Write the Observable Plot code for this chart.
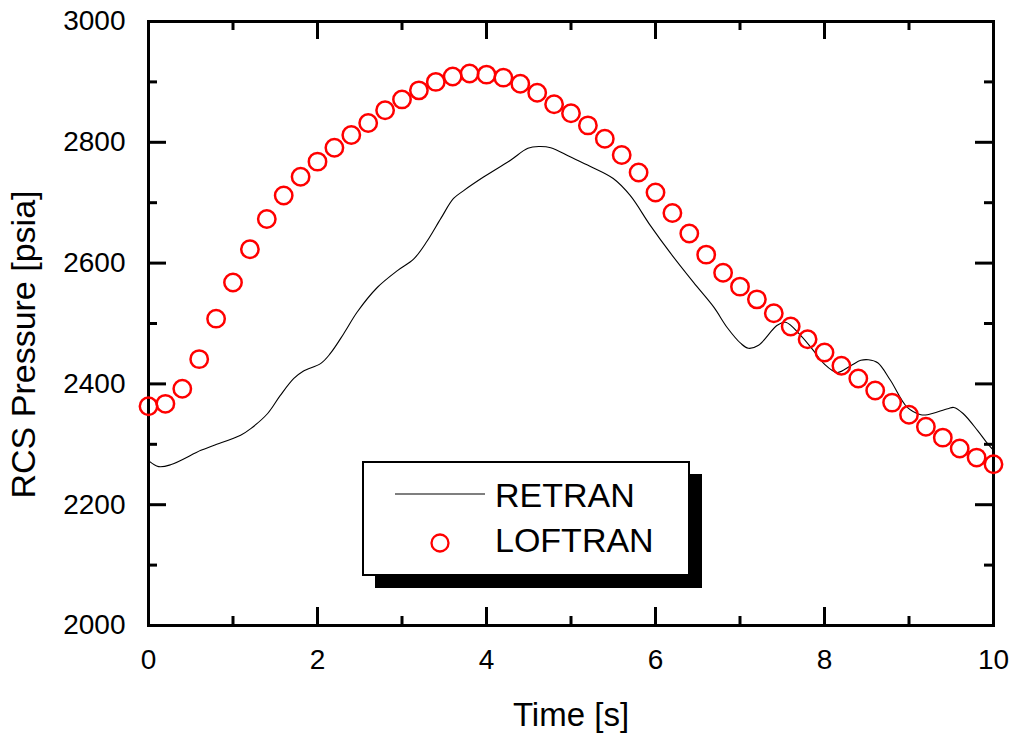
<!DOCTYPE html>
<html><head><meta charset="utf-8">
<script src="https://cdn.jsdelivr.net/npm/d3@7"></script>
<script src="https://cdn.jsdelivr.net/npm/@observablehq/plot@0.6"></script>
<style>
body{margin:0;background:#fff;}
#chart svg{display:block;}
</style>
</head><body><div id="chart"></div>
<script>
// ---- data ----
const seriesNames = ["RETRAN", "LOFTRAN"];
const xLabel = "Time [s]";
const yLabel = "RCS Pressure [psia]";

const loftranTime = [0,0.2,0.4,0.6,0.8,1,1.2,1.4,1.6,1.8,2,2.2,2.4,2.6,2.8,3,3.2,3.4,3.6,3.8,4,4.2,4.4,4.6,4.8,5,5.2,5.4,5.6,5.8,6,6.2,6.4,6.6,6.8,7,7.2,7.4,7.6,7.8,8,8.2,8.4,8.6,8.8,9,9.2,9.4,9.6,9.8,10];
const loftranPressure = [2363,2367,2392,2441,2508,2568,2623,2673,2712,2743,2768,2791,2812,2832,2853,2871,2886,2900,2909,2914,2912,2907,2897,2882,2863,2848,2828,2806,2779,2750,2717,2683,2649,2614,2584,2561,2540,2517,2495,2474,2452,2430,2409,2389,2369,2349,2329,2311,2293,2278,2267];

const retranTime = [0,0.12,0.26,0.62,0.77,1.09,1.21,1.41,1.56,1.72,1.83,2.04,2.15,2.31,2.47,2.71,2.95,3.14,3.30,3.46,3.61,3.73,3.96,4.28,4.49,4.62,4.76,4.99,5.23,5.50,5.70,5.94,6.18,6.45,6.69,6.85,7.01,7.10,7.22,7.44,7.54,7.72,7.87,7.99,8.15,8.31,8.43,8.52,8.63,8.78,8.98,9.14,9.22,9.46,9.53,9.64,9.81,9.93,10];
const retranPressure = [2273,2263,2266,2290,2298,2315,2326,2351,2381,2409,2421,2434,2450,2483,2519,2560,2588,2607,2637,2674,2707,2720,2742,2770,2790,2793,2791,2776,2760,2740,2712,2662,2616,2568,2527,2493,2467,2459,2464,2497,2502,2480,2455,2434,2419,2430,2439,2440,2435,2406,2361,2349,2349,2359,2361,2351,2323,2301,2290];

const xMajorTicks = [0,2,4,6,8,10];
const xMinorTicks = [1,3,5,7,9];
const yMajorTicks = [2000,2200,2400,2600,2800,3000];
const yMinorTicks = [2100,2300,2500,2700,2900];

// ---- build tables ----
const loftran = loftranTime.map((t,i)=>({t, p: loftranPressure[i]}));
const retran = retranTime.map((t,i)=>({t, p: retranPressure[i]}));

// ---- layout ----
const W = 1016, H = 739;
const mL = 148, mR = 23, mT = 21, mB = 114;
const PW = W - mL - mR, PH = H - mT - mB;
const MAJ = 18, MIN = 9;
const FONT = "'Liberation Sans', Arial, Helvetica, sans-serif";

const chart = Plot.plot({
  width: W, height: H,
  marginLeft: mL, marginRight: mR, marginTop: mT, marginBottom: mB,
  style: {fontFamily: FONT, fontSize: "28px", background: "#fff", color: "#000"},
  x: {domain: [0, 10]},
  y: {domain: [2000, 3000]},
  marks: [
    Plot.line(retran, {x: "t", y: "p", stroke: "#000", strokeWidth: 1.1, curve: "catmull-rom"}),
    // ticks (inward on all four sides)
    Plot.tickX(xMajorTicks, {x: d=>d, insetTop: PH - MAJ, strokeWidth: 3}),
    Plot.tickX(xMinorTicks, {x: d=>d, insetTop: PH - MIN, strokeWidth: 3}),
    Plot.tickX(xMajorTicks, {x: d=>d, insetBottom: PH - MAJ, strokeWidth: 3}),
    Plot.tickX(xMinorTicks, {x: d=>d, insetBottom: PH - MIN, strokeWidth: 3}),
    Plot.tickY(yMajorTicks, {y: d=>d, insetRight: PW - MAJ, strokeWidth: 3}),
    Plot.tickY(yMinorTicks, {y: d=>d, insetRight: PW - MIN, strokeWidth: 3}),
    Plot.tickY(yMajorTicks, {y: d=>d, insetLeft: PW - MAJ, strokeWidth: 3}),
    Plot.tickY(yMinorTicks, {y: d=>d, insetLeft: PW - MIN, strokeWidth: 3}),
    Plot.frame({stroke: "#000", strokeWidth: 3}),
    Plot.axisX(xMajorTicks, {tickSize: 0, tickPadding: 24, fontSize: 28, label: null, tickFormat: d => String(d)}),
    Plot.axisY(yMajorTicks, {tickSize: 0, tickPadding: 23, fontSize: 28, label: null, tickFormat: d => String(d)}),
    Plot.text([xLabel], {frameAnchor: "bottom", lineAnchor: "top", textAnchor: "middle", dy: 77, fontSize: 33, fill: "#000"}),
    Plot.text([yLabel], {frameAnchor: "left", rotate: -90, textAnchor: "middle", dx: -124, dy: 21, fontSize: 34, fill: "#000"}),
    Plot.dot(loftran, {x: "t", y: "p", r: 8.7, stroke: "#ff0000", strokeWidth: 2.5, fill: "none"})
  ]
});
document.getElementById("chart").appendChild(chart);

// ---- legend (inside the plot, with drop shadow) ----
const svg = d3.select(chart);
const lg = svg.append("g").attr("font-family", FONT).attr("text-anchor", "start");
lg.append("rect").attr("x", 375).attr("y", 474).attr("width", 327).attr("height", 114).attr("fill", "#000");
lg.append("rect").attr("x", 363).attr("y", 462).attr("width", 326).attr("height", 113)
  .attr("fill", "#fff").attr("stroke", "#000").attr("stroke-width", 2);
lg.append("line").attr("x1", 395).attr("x2", 485).attr("y1", 494).attr("y2", 494)
  .attr("stroke", "#000").attr("stroke-width", 1.1);
lg.append("circle").attr("cx", 440).attr("cy", 543).attr("r", 8.5)
  .attr("fill", "none").attr("stroke", "#ff0000").attr("stroke-width", 2.3);
lg.append("text").attr("x", 495).attr("y", 507).attr("font-size", 34).attr("text-anchor", "start").attr("fill", "#000").text(seriesNames[0]);
lg.append("text").attr("x", 495).attr("y", 552).attr("font-size", 34).attr("text-anchor", "start").attr("fill", "#000").text(seriesNames[1]);
</script>
</body></html>
